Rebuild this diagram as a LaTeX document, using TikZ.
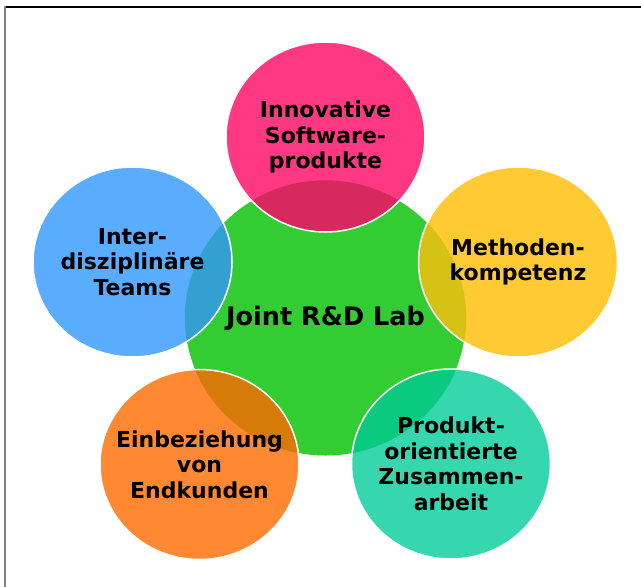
\documentclass[tikz,border=0pt]{standalone}
\usepackage{fontspec}
\setmainfont{DejaVu Sans}
\usepackage{xcolor}
\usepackage{tikz}
\usetikzlibrary{shapes.geometric}
\definecolor{labgreen}{RGB}{51,204,51}
\definecolor{swpink}{RGB}{255,56,132}
\definecolor{swpinkd}{RGB}{214,42,94}
\definecolor{teamblue}{RGB}{90,172,255}
\definecolor{teamblued}{RGB}{51,160,208}
\definecolor{methyellow}{RGB}{255,202,51}
\definecolor{methyellowd}{RGB}{214,194,20}
\definecolor{custorange}{RGB}{255,136,51}
\definecolor{custoranged}{RGB}{214,122,10}
\definecolor{prodteal}{RGB}{54,214,174}
\definecolor{prodteald}{RGB}{10,202,128}
\tikzset{
  hub/.style={ellipse,fill=labgreen,inner sep=0pt,minimum width=281pt,
              minimum height=275pt,align=center,
              font=\bfseries\fontsize{25.5}{30}\selectfont},   % 中心圆
  petal/.style={ellipse,draw=white,line width=1.5pt,inner sep=0pt,
                minimum width=199pt,minimum height=190pt},      % 外圈圆：白边
  ptxt/.style={align=center,inner sep=0pt,
               font=\bfseries\fontsize{22}{25.5}\selectfont},  % 外圈文字
  ovl/.style={path picture={\fill[#1] (lab.center)
                ellipse [x radius=140.7pt,y radius=137.7pt];}}  % 与中心圆重叠处加深
}

\begin{document}
\begin{tikzpicture}[x=1pt,y=-1pt]
  \useasboundingbox (0,0) rectangle (641,587);
  \draw[black,line width=2pt] (5,7) -- (641,7);
  \draw[black!50,line width=2pt] (5,6) -- (5,587);

  \node[hub] (lab) at (325.5,318) {Joint R\&D Lab};

  \node[petal,fill=swpink,ovl=swpinkd,
        label={[ptxt]center:Innovative\\Software-\\produkte}] (sw) at (325.5,137) {};
  \node[petal,fill=teamblue,ovl=teamblued,
        label={[ptxt]center:Inter-\\disziplinäre\\Teams}] (teams) at (132.5,262) {};
  \node[petal,fill=methyellow,ovl=methyellowd,
        label={[ptxt]center:Methoden-\\kompetenz}] (meth) at (518,262) {};
  \node[petal,fill=custorange,ovl=custoranged,
        label={[ptxt]center:Einbeziehung\\von\\Endkunden}] (cust) at (199.5,464.5) {};
  \node[petal,fill=prodteal,ovl=prodteald,
        label={[ptxt]center:Produkt-\\orientierte\\Zusammen-\\arbeit}] (prod) at (451,464) {};
\end{tikzpicture}
\end{document}
